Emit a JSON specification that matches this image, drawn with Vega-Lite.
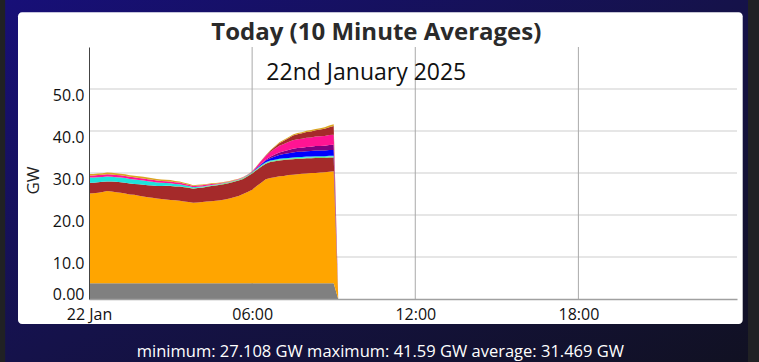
{
  "$schema": "https://vega.github.io/schema/vega-lite/v6.json",
  "width": 648,
  "height": 252,
  "autosize": {"type": "none"},
  "padding": {"left": 89, "top": 47, "right": 22, "bottom": 63},
  "background": "#202124",
  "config": {
    "view": {"stroke": null},
    "axis": {"zindex": 1, "grid": false, "ticks": false, "labelFont": "Open Sans", "labelFontSize": 16, "labelColor": "#111111", "titleFont": "Open Sans"}
  },
  "layer": [
    {
      "data": {"values": [{}]},
      "mark": {"type": "rect", "fill": {"gradient": "linear", "x1": 0, "y1": 0, "x2": 1, "y2": 1, "stops": [{"offset": 0, "color": "#170f78"}, {"offset": 0.5, "color": "#15124a"}, {"offset": 1, "color": "#111122"}]}},
      "encoding": {
        "x": {"datum": {"year": 2025, "month": 1, "date": 21, "hours": 20, "minutes": 55}, "type": "temporal"},
        "x2": {"datum": {"year": 2025, "month": 1, "date": 23, "hours": 0, "minutes": 14, "seconds": 20}},
        "y": {"datum": 72, "type": "quantitative"},
        "y2": {"datum": -16}
      }
    },
    {
      "data": {"values": [{}]},
      "mark": {"type": "rect", "fill": "#ffffff", "cornerRadius": 4},
      "encoding": {
        "x": {"datum": {"year": 2025, "month": 1, "date": 21, "hours": 21, "minutes": 23, "seconds": 20}, "type": "temporal"},
        "x2": {"datum": {"year": 2025, "month": 1, "date": 23, "hours": 0, "minutes": 2, "seconds": 36}},
        "y": {"datum": 68.26, "type": "quantitative"},
        "y2": {"datum": -5.95}
      }
    },
    {
      "data": {"values": [{"g": 10}, {"g": 20}, {"g": 30}, {"g": 40}, {"g": 50}]},
      "mark": {"type": "rule", "color": "#e6e6e6", "strokeWidth": 2},
      "encoding": {"y": {"field": "g", "type": "quantitative"}}
    },
    {
      "data": {"values": [{"h": "2025-01-22T06:00"}, {"h": "2025-01-22T12:00"}, {"h": "2025-01-22T18:00"}]},
      "mark": {"type": "rule", "color": "#aaaaaa", "strokeWidth": 1},
      "encoding": {"x": {"field": "h", "type": "temporal"}}
    },
    {
      "data": {"values": [
        {"t": "2025-01-22T00:00", "a": 3.74, "b": 21.36, "c": 2.6, "d": 0, "e": 1.2, "f": 0, "g": 0, "h": 0.5, "i": 0, "j": 0.35},
        {"t": "2025-01-22T00:10", "a": 3.75, "b": 21.45, "c": 2.5, "d": 0, "e": 1.2, "f": 0, "g": 0, "h": 0.5, "i": 0, "j": 0.35},
        {"t": "2025-01-22T00:20", "a": 3.75, "b": 21.55, "c": 2.5, "d": 0, "e": 1.18, "f": 0, "g": 0, "h": 0.52, "i": 0, "j": 0.36},
        {"t": "2025-01-22T00:30", "a": 3.74, "b": 21.76, "c": 2.4, "d": 0, "e": 1.16, "f": 0, "g": 0, "h": 0.53, "i": 0, "j": 0.38},
        {"t": "2025-01-22T00:40", "a": 3.75, "b": 21.95, "c": 2.3, "d": 0, "e": 1.15, "f": 0, "g": 0, "h": 0.55, "i": 0, "j": 0.4},
        {"t": "2025-01-22T00:50", "a": 3.76, "b": 21.84, "c": 2.4, "d": 0, "e": 1.12, "f": 0, "g": 0, "h": 0.55, "i": 0, "j": 0.4},
        {"t": "2025-01-22T01:00", "a": 3.75, "b": 21.65, "c": 2.5, "d": 0, "e": 1.1, "f": 0, "g": 0, "h": 0.55, "i": 0, "j": 0.4},
        {"t": "2025-01-22T01:10", "a": 3.75, "b": 21.55, "c": 2.5, "d": 0, "e": 1.1, "f": 0, "g": 0, "h": 0.54, "i": 0, "j": 0.4},
        {"t": "2025-01-22T01:20", "a": 3.74, "b": 21.36, "c": 2.6, "d": 0, "e": 1.08, "f": 0, "g": 0, "h": 0.53, "i": 0, "j": 0.4},
        {"t": "2025-01-22T01:30", "a": 3.75, "b": 21.15, "c": 2.6, "d": 0, "e": 1.06, "f": 0, "g": 0, "h": 0.52, "i": 0, "j": 0.4},
        {"t": "2025-01-22T01:40", "a": 3.76, "b": 21.04, "c": 2.6, "d": 0, "e": 1.04, "f": 0, "g": 0, "h": 0.52, "i": 0, "j": 0.4},
        {"t": "2025-01-22T01:50", "a": 3.75, "b": 20.85, "c": 2.7, "d": 0, "e": 1.02, "f": 0, "g": 0, "h": 0.51, "i": 0, "j": 0.4},
        {"t": "2025-01-22T02:00", "a": 3.75, "b": 20.65, "c": 2.8, "d": 0, "e": 1.0, "f": 0, "g": 0, "h": 0.5, "i": 0, "j": 0.4},
        {"t": "2025-01-22T02:10", "a": 3.74, "b": 20.46, "c": 2.9, "d": 0.01, "e": 0.94, "f": 0, "g": 0, "h": 0.49, "i": 0, "j": 0.39},
        {"t": "2025-01-22T02:20", "a": 3.75, "b": 20.35, "c": 2.9, "d": 0.02, "e": 0.87, "f": 0, "g": 0, "h": 0.48, "i": 0, "j": 0.38},
        {"t": "2025-01-22T02:30", "a": 3.75, "b": 20.15, "c": 3.0, "d": 0.03, "e": 0.8, "f": 0, "g": 0, "h": 0.47, "i": 0, "j": 0.37},
        {"t": "2025-01-22T02:40", "a": 3.76, "b": 20.04, "c": 3.1, "d": 0.03, "e": 0.73, "f": 0, "g": 0, "h": 0.46, "i": 0, "j": 0.36},
        {"t": "2025-01-22T02:50", "a": 3.75, "b": 19.95, "c": 3.2, "d": 0.04, "e": 0.66, "f": 0, "g": 0, "h": 0.46, "i": 0, "j": 0.36},
        {"t": "2025-01-22T03:00", "a": 3.74, "b": 19.86, "c": 3.3, "d": 0.05, "e": 0.6, "f": 0, "g": 0, "h": 0.45, "i": 0, "j": 0.35},
        {"t": "2025-01-22T03:10", "a": 3.75, "b": 19.75, "c": 3.3, "d": 0.06, "e": 0.52, "f": 0, "g": 0, "h": 0.42, "i": 0, "j": 0.32},
        {"t": "2025-01-22T03:20", "a": 3.75, "b": 19.65, "c": 3.4, "d": 0.07, "e": 0.45, "f": 0, "g": 0, "h": 0.39, "i": 0, "j": 0.29},
        {"t": "2025-01-22T03:30", "a": 3.76, "b": 19.44, "c": 3.4, "d": 0.08, "e": 0.38, "f": 0, "g": 0, "h": 0.36, "i": 0, "j": 0.26},
        {"t": "2025-01-22T03:40", "a": 3.75, "b": 19.35, "c": 3.4, "d": 0.09, "e": 0.31, "f": 0, "g": 0, "h": 0.33, "i": 0, "j": 0.23},
        {"t": "2025-01-22T03:50", "a": 3.74, "b": 19.16, "c": 3.36, "d": 0.1, "e": 0.25, "f": 0, "g": 0, "h": 0.3, "i": 0, "j": 0.2},
        {"t": "2025-01-22T04:00", "a": 3.75, "b": 19.25, "c": 3.4, "d": 0.11, "e": 0.21, "f": 0, "g": 0, "h": 0.29, "i": 0, "j": 0.19},
        {"t": "2025-01-22T04:10", "a": 3.75, "b": 19.35, "c": 3.4, "d": 0.12, "e": 0.17, "f": 0, "g": 0, "h": 0.28, "i": 0, "j": 0.18},
        {"t": "2025-01-22T04:20", "a": 3.76, "b": 19.44, "c": 3.5, "d": 0.13, "e": 0.14, "f": 0, "g": 0, "h": 0.27, "i": 0, "j": 0.17},
        {"t": "2025-01-22T04:30", "a": 3.75, "b": 19.55, "c": 3.6, "d": 0.15, "e": 0.1, "f": 0, "g": 0, "h": 0.25, "i": 0, "j": 0.15},
        {"t": "2025-01-22T04:40", "a": 3.74, "b": 19.66, "c": 3.6, "d": 0.17, "e": 0.08, "f": 0, "g": 0, "h": 0.22, "i": 0, "j": 0.13},
        {"t": "2025-01-22T04:50", "a": 3.75, "b": 19.75, "c": 3.7, "d": 0.18, "e": 0.06, "f": 0, "g": 0, "h": 0.18, "i": 0, "j": 0.12},
        {"t": "2025-01-22T05:00", "a": 3.75, "b": 19.95, "c": 3.7, "d": 0.2, "e": 0.05, "f": 0, "g": 0, "h": 0.15, "i": 0, "j": 0.1},
        {"t": "2025-01-22T05:10", "a": 3.76, "b": 20.14, "c": 3.7, "d": 0.2, "e": 0.05, "f": 0, "g": 0, "h": 0.14, "i": 0, "j": 0.1},
        {"t": "2025-01-22T05:20", "a": 3.75, "b": 20.45, "c": 3.7, "d": 0.2, "e": 0.05, "f": 0, "g": 0, "h": 0.13, "i": 0, "j": 0.09},
        {"t": "2025-01-22T05:30", "a": 3.74, "b": 20.76, "c": 3.7, "d": 0.2, "e": 0.05, "f": 0, "g": 0, "h": 0.12, "i": 0, "j": 0.08},
        {"t": "2025-01-22T05:40", "a": 3.75, "b": 21.25, "c": 3.6, "d": 0.2, "e": 0.06, "f": 0.01, "g": 0, "h": 0.11, "i": 0, "j": 0.07},
        {"t": "2025-01-22T05:50", "a": 3.75, "b": 21.75, "c": 3.7, "d": 0.2, "e": 0.08, "f": 0.03, "g": 0, "h": 0.1, "i": 0, "j": 0.06},
        {"t": "2025-01-22T06:00", "a": 3.76, "b": 22.24, "c": 3.9, "d": 0.2, "e": 0.1, "f": 0.05, "g": 0, "h": 0.1, "i": 0, "j": 0.05},
        {"t": "2025-01-22T06:10", "a": 3.75, "b": 23.15, "c": 3.8, "d": 0.2, "e": 0.12, "f": 0.15, "g": 0.05, "h": 0.35, "i": 0.02, "j": 0.07},
        {"t": "2025-01-22T06:20", "a": 3.74, "b": 23.96, "c": 3.8, "d": 0.2, "e": 0.13, "f": 0.28, "g": 0.12, "h": 0.62, "i": 0.06, "j": 0.08},
        {"t": "2025-01-22T06:30", "a": 3.75, "b": 24.75, "c": 3.7, "d": 0.2, "e": 0.15, "f": 0.4, "g": 0.2, "h": 0.9, "i": 0.1, "j": 0.1},
        {"t": "2025-01-22T06:40", "a": 3.75, "b": 25.05, "c": 3.8, "d": 0.2, "e": 0.17, "f": 0.57, "g": 0.33, "h": 1.15, "i": 0.27, "j": 0.13},
        {"t": "2025-01-22T06:50", "a": 3.76, "b": 25.24, "c": 3.8, "d": 0.2, "e": 0.18, "f": 0.74, "g": 0.47, "h": 1.38, "i": 0.43, "j": 0.17},
        {"t": "2025-01-22T07:00", "a": 3.75, "b": 25.45, "c": 3.8, "d": 0.2, "e": 0.2, "f": 0.9, "g": 0.6, "h": 1.6, "i": 0.6, "j": 0.2},
        {"t": "2025-01-22T07:10", "a": 3.74, "b": 25.56, "c": 3.8, "d": 0.2, "e": 0.2, "f": 1.0, "g": 0.7, "h": 1.73, "i": 0.77, "j": 0.22},
        {"t": "2025-01-22T07:20", "a": 3.75, "b": 25.75, "c": 3.7, "d": 0.2, "e": 0.2, "f": 1.1, "g": 0.8, "h": 1.87, "i": 0.93, "j": 0.23},
        {"t": "2025-01-22T07:30", "a": 3.75, "b": 25.85, "c": 3.7, "d": 0.2, "e": 0.2, "f": 1.2, "g": 0.9, "h": 2.0, "i": 1.1, "j": 0.25},
        {"t": "2025-01-22T07:40", "a": 3.76, "b": 25.94, "c": 3.7, "d": 0.2, "e": 0.2, "f": 1.23, "g": 0.93, "h": 2.07, "i": 1.2, "j": 0.27},
        {"t": "2025-01-22T07:50", "a": 3.75, "b": 26.05, "c": 3.6, "d": 0.2, "e": 0.2, "f": 1.27, "g": 0.97, "h": 2.13, "i": 1.28, "j": 0.28},
        {"t": "2025-01-22T08:00", "a": 3.74, "b": 26.16, "c": 3.6, "d": 0.2, "e": 0.2, "f": 1.3, "g": 1.0, "h": 2.2, "i": 1.35, "j": 0.3},
        {"t": "2025-01-22T08:10", "a": 3.75, "b": 26.25, "c": 3.5, "d": 0.2, "e": 0.2, "f": 1.32, "g": 1.03, "h": 2.23, "i": 1.42, "j": 0.32},
        {"t": "2025-01-22T08:20", "a": 3.75, "b": 26.25, "c": 3.6, "d": 0.2, "e": 0.2, "f": 1.33, "g": 1.07, "h": 2.27, "i": 1.5, "j": 0.33},
        {"t": "2025-01-22T08:30", "a": 3.76, "b": 26.34, "c": 3.5, "d": 0.2, "e": 0.2, "f": 1.35, "g": 1.1, "h": 2.3, "i": 1.58, "j": 0.35},
        {"t": "2025-01-22T08:40", "a": 3.75, "b": 26.45, "c": 3.4, "d": 0.2, "e": 0.2, "f": 1.37, "g": 1.13, "h": 2.33, "i": 1.72, "j": 0.37},
        {"t": "2025-01-22T08:50", "a": 3.74, "b": 26.56, "c": 3.4, "d": 0.2, "e": 0.2, "f": 1.38, "g": 1.17, "h": 2.37, "i": 1.9, "j": 0.38},
        {"t": "2025-01-22T09:00", "a": 3.75, "b": 26.65, "c": 3.3, "d": 0.2, "e": 0.2, "f": 1.4, "g": 1.2, "h": 2.4, "i": 2.09, "j": 0.4},
        {"t": "2025-01-22T09:10", "a": 0, "b": 0, "c": 0, "d": 0, "e": 0, "f": 0, "g": 0, "h": 0, "i": 0, "j": 0}
      ]},
      "transform": [{"fold": ["a", "b", "c", "d", "e", "f", "g", "h", "i", "j"], "as": ["k", "v"]}],
      "mark": {"type": "area", "interpolate": "linear"},
      "encoding": {
        "x": {
          "field": "t", "type": "temporal",
          "scale": {"domain": [{"year": 2025, "month": 1, "date": 22, "hours": 0, "minutes": 0}, {"year": 2025, "month": 1, "date": 22, "hours": 23, "minutes": 50}]},
          "axis": {
            "zindex": 2,
            "title": null,
            "values": [{"year": 2025, "month": 1, "date": 22, "hours": 0}, {"year": 2025, "month": 1, "date": 22, "hours": 6}, {"year": 2025, "month": 1, "date": 22, "hours": 12}, {"year": 2025, "month": 1, "date": 22, "hours": 18}],
            "labelExpr": "hours(datum.value) === 0 ? timeFormat(datum.value, '%d %b') : timeFormat(datum.value, '%H:%M')",
            "labelPadding": 7, "labelFlush": false, "labelOverlap": false,
            "domainColor": "#a0a0a0", "domainWidth": 1.5
          }
        },
        "y": {
          "field": "v", "type": "quantitative", "stack": "zero",
          "scale": {"domain": [0, 60], "nice": false},
          "axis": {
            "zindex": 2,
            "title": "GW", "titleFontSize": 17, "titleFontWeight": "normal", "titleColor": "#222222", "titlePadding": 10, "titleY": 133,
            "values": [0, 10, 20, 30, 40, 50],
            "labelExpr": "datum.value === 0 ? '0.00' : format(datum.value, '.1f')",
            "labelPadding": 5, "labelBaseline": "middle", "labelOverlap": false,
            "labelOffset": {"condition": {"test": "datum.value === 0", "value": -5}, "value": 6},
            "domainColor": "#444444", "domainWidth": 1
          }
        },
        "color": {
          "field": "k", "type": "nominal", "legend": null,
          "scale": {"domain": ["a", "b", "c", "d", "e", "f", "g", "h", "i", "j"], "range": ["#808080", "#ffa500", "#a52a2a", "#77dd77", "#1ee3dc", "#0000ff", "#800080", "#ff1493", "#a52a2a", "#daa520"]}
        },
        "order": {"field": "k", "sort": "ascending"}
      }
    },
    {
      "data": {"values": [{}]},
      "mark": {"type": "text", "text": "Today (10 Minute Averages)", "font": "Open Sans", "fontSize": 24, "fontWeight": "bold", "color": "#2a2a2a", "align": "center", "baseline": "alphabetic"},
      "encoding": {
        "x": {"datum": {"year": 2025, "month": 1, "date": 22, "hours": 10, "minutes": 34}, "type": "temporal"},
        "y": {"datum": 61.67, "type": "quantitative"}
      }
    },
    {
      "data": {"values": [{}]},
      "mark": {"type": "text", "text": "22nd January 2025", "font": "Open Sans", "fontSize": 23, "color": "#111111", "align": "center", "baseline": "alphabetic"},
      "encoding": {
        "x": {"datum": {"year": 2025, "month": 1, "date": 22, "hours": 10, "minutes": 12}, "type": "temporal"},
        "y": {"datum": 52.14, "type": "quantitative"}
      }
    },
    {
      "data": {"values": [{}]},
      "mark": {"type": "text", "text": "minimum: 27.108 GW maximum: 41.59 GW average: 31.469 GW", "font": "Open Sans", "fontSize": 16.5, "color": "#ffffff", "align": "center", "baseline": "middle"},
      "encoding": {
        "x": {"datum": {"year": 2025, "month": 1, "date": 22, "hours": 10, "minutes": 43}, "type": "temporal"},
        "y": {"datum": -12.6, "type": "quantitative"}
      }
    }
  ]
}
